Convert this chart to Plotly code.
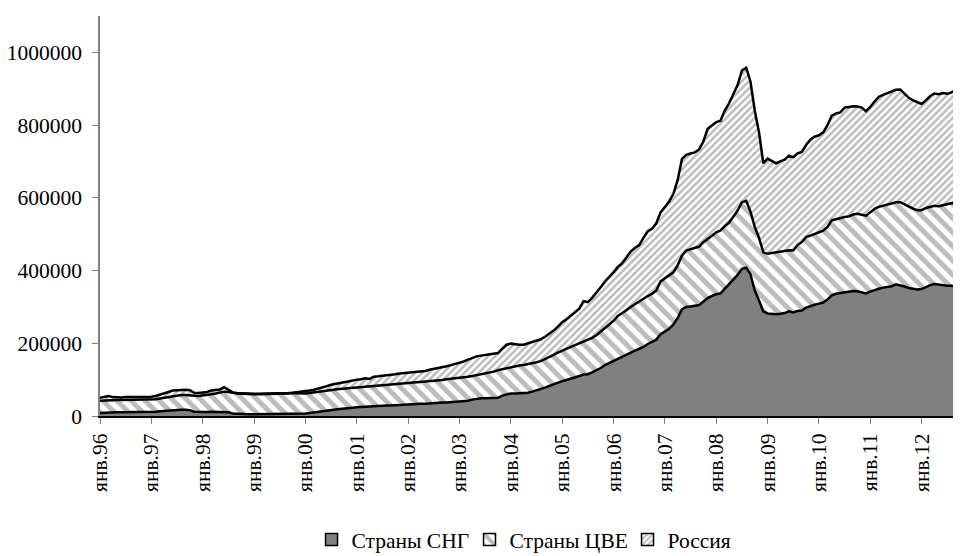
import plotly.graph_objects as go

# Values in thousands (monthly, Jan 1996 onward)
cis = [
    8, 9, 9, 9, 10, 10, 10, 11, 11, 11, 12, 12,
    12, 12, 13, 14, 16, 17, 17, 17, 17, 16, 12, 11,
    11, 11, 12, 12, 12, 12, 10, 7, 6, 6, 5, 5,
    5, 5, 5, 5, 6, 6, 6, 6, 6, 6, 6, 6, 7,
    8, 10, 12, 13, 15, 17, 18, 19, 21, 22, 23, 24,
    25, 26, 26, 27, 28, 28, 29, 29, 30, 30, 31, 32,
    33, 33, 34, 34, 35, 35, 36, 37, 37, 38, 39, 39,
    40, 42, 45, 48, 49, 49, 49, 49, 50, 56, 60, 62,
    62, 62, 63, 64, 67, 70, 73, 78, 83, 88, 92, 96, 99,
    102, 106, 110, 114, 115, 120, 125, 132, 140, 146, 152, 158,
    162, 168, 175, 180, 185, 190, 198, 203, 210, 225, 232, 240,
    252, 270, 294, 300, 301, 303, 305, 315, 324, 330, 335, 337,
    350, 365, 378, 388, 405, 408, 390, 345, 318, 288, 282, 280,
    280, 281, 283, 288, 285, 289, 290, 298, 303, 306, 309, 312, 320,
    332, 336, 338, 340, 342, 344, 343, 340, 337, 342, 347, 350,
    353, 355, 357, 362, 360, 356, 352, 349, 348, 349, 355, 360,
    363, 361, 360, 358, 358, 358, 357,
]

cee = [
    34, 34, 35, 34, 34, 34, 34, 34, 34, 34, 33, 33,
    34, 34, 35, 36, 37, 39, 40, 41, 41, 42, 44, 44,
    45, 47, 48, 50, 52, 55, 56, 56, 56, 55, 55, 55,
    55, 55, 55, 55, 55, 55, 56, 56, 56, 57, 56, 55, 55,
    55, 55, 55, 56, 55, 55, 55, 55, 54, 54, 54, 54,
    54, 54, 55, 55, 55, 57, 57, 57, 57, 58, 58, 58,
    58, 59, 59, 60, 60, 61, 62, 62, 64, 64, 64, 65,
    66, 66, 65, 64, 65, 67, 69, 73, 76, 73, 72, 73,
    76, 77, 77, 78, 78, 78, 78, 78, 79, 80, 82, 84, 86,
    88, 89, 90, 91, 93, 95, 97, 100, 102, 106, 110, 117,
    120, 123, 125, 128, 130, 132, 132, 133, 135, 145, 146, 145,
    143, 145, 147, 155, 158, 159, 161, 163, 164, 166, 170, 173,
    172, 167, 170, 177, 183, 184, 172, 175, 172, 162, 164, 168,
    168, 169, 169, 168, 170, 181, 188, 194, 193, 194, 195, 198, 200,
    206, 205, 207, 207, 207, 210, 213, 213, 214, 218, 223, 225,
    225, 227, 228, 226, 228, 226, 223, 221, 218, 217, 217, 216,
    215, 216, 220, 224, 227, 230, 232,
]

russia = [
    8, 10, 11, 9, 7, 7, 8, 7, 7, 8, 7, 7,
    7, 9, 10, 12, 13, 14, 14, 14, 14, 13, 8, 8,
    8, 8, 10, 9, 9, 12, 6, 2, 1, 1, 1, 1,
    1, 1, 1, 2, 1, 1, 1, 1, 1, 1, 3, 5, 6,
    7, 7, 8, 8, 12, 14, 16, 16, 18, 19, 21, 22,
    22, 24, 21, 26, 26, 25, 25, 26, 28, 29, 29, 29,
    29, 28, 29, 30, 32, 33, 34, 35, 36, 38, 40, 42,
    44, 47, 50, 52, 52, 52, 52, 48, 47, 56, 64, 64,
    59, 57, 56, 58, 59, 60, 60, 62, 64, 67, 72, 78, 81,
    85, 90, 95, 111, 105, 110, 116, 122, 128, 130, 133, 135,
    138, 145, 152, 154, 155, 168, 178, 179, 185, 190, 197, 205,
    216, 235, 266, 263, 263, 263, 267, 277, 302, 304, 303, 302,
    318, 328, 337, 345, 362, 366, 358, 320, 290, 245, 262, 254,
    247, 250, 253, 260, 257, 252, 248, 253, 264, 268, 268, 270, 280,
    288, 291, 290, 301, 301, 298, 295, 295, 287, 290, 295, 303,
    305, 306, 307, 309, 310, 303, 300, 298, 296, 292, 296, 304,
    309, 308, 308, 304, 305, 309, 310,
]

series_names = ["Страны СНГ", "Страны ЦВЕ", "Россия"]
tick_labels = ["янв.96", "янв.97", "янв.98", "янв.99", "янв.00", "янв.01",
               "янв.02", "янв.03", "янв.04", "янв.05", "янв.06", "янв.07",
               "янв.08", "янв.09", "янв.10", "янв.11", "янв.12"]
y_ticks = [0, 200000, 400000, 600000, 800000, 1000000]

months = list(range(len(cis)))
UNIT = 1000

pat_cee = dict(shape="\\", fgcolor="#7a7a7a", bgcolor="white", size=10, solidity=0.5)
pat_ru = dict(shape="/", fgcolor="#7a7a7a", bgcolor="white", size=5, solidity=0.5)

fig = go.Figure()
fig.add_trace(go.Scatter(
    x=months, y=[v * UNIT for v in cis], name=series_names[0],
    stackgroup="one", mode="lines", showlegend=False,
    line=dict(color="black", width=2.5),
    fillcolor="#808080",
))
fig.add_trace(go.Scatter(
    x=months, y=[v * UNIT for v in cee], name=series_names[1],
    stackgroup="one", mode="lines", showlegend=False,
    line=dict(color="black", width=2.5),
    fillcolor="white", fillpattern=pat_cee,
))
fig.add_trace(go.Scatter(
    x=months, y=[v * UNIT for v in russia], name=series_names[2],
    stackgroup="one", mode="lines", showlegend=False,
    line=dict(color="black", width=2.5),
    fillcolor="white", fillpattern=pat_ru,
))

# legend-only entries (square swatches like the reference)
legend_markers = [
    dict(color="#808080", line=dict(color="black", width=1.5)),
    dict(color="white", pattern=pat_cee, line=dict(color="black", width=1.5)),
    dict(color="white", pattern=pat_ru, line=dict(color="black", width=1.5)),
]
for name, mk in zip(series_names, legend_markers):
    fig.add_trace(go.Bar(x=[None], y=[None], name=name, marker=mk,
                         showlegend=True, hoverinfo="skip"))

# The page body adds an 8px offset; margins compensate for it.
fig.update_layout(
    width=953, height=548,
    margin=dict(l=92, r=0, t=8, b=140),
    paper_bgcolor="white", plot_bgcolor="white",
    font=dict(family="Liberation Serif, Times New Roman, serif", size=21.5, color="black"),
    showlegend=True,
    legend=dict(orientation="h", xref="container", yref="container",
                x=0.3185, xanchor="left", y=0.03, yanchor="middle",
                traceorder="normal", font=dict(size=21.5), itemwidth=30,
                entrywidthmode="pixels", entrywidth=113,
                bgcolor="rgba(0,0,0,0)"),
    xaxis=dict(range=[0, 201.2], tickmode="array",
               tickvals=[12 * i for i in range(len(tick_labels))],
               ticktext=tick_labels, tickangle=-90,
               ticks="outside", ticklen=6, tickcolor="#808080", tickwidth=1,
               showline=True, linecolor="black", linewidth=2,
               showgrid=False, zeroline=False, tickfont=dict(size=21.5),
               ticklabelstandoff=1),
    yaxis=dict(range=[0, 1100000], tickmode="array", tickvals=y_ticks,
               ticktext=[str(v) for v in y_ticks],
               ticks="outside", ticklen=6, tickcolor="#808080", tickwidth=1,
               showline=True, linecolor="#808080", linewidth=1.5,
               showgrid=False, zeroline=False, tickfont=dict(size=21.5),
               ticklabelstandoff=6),
)

fig.write_html("out.html")
